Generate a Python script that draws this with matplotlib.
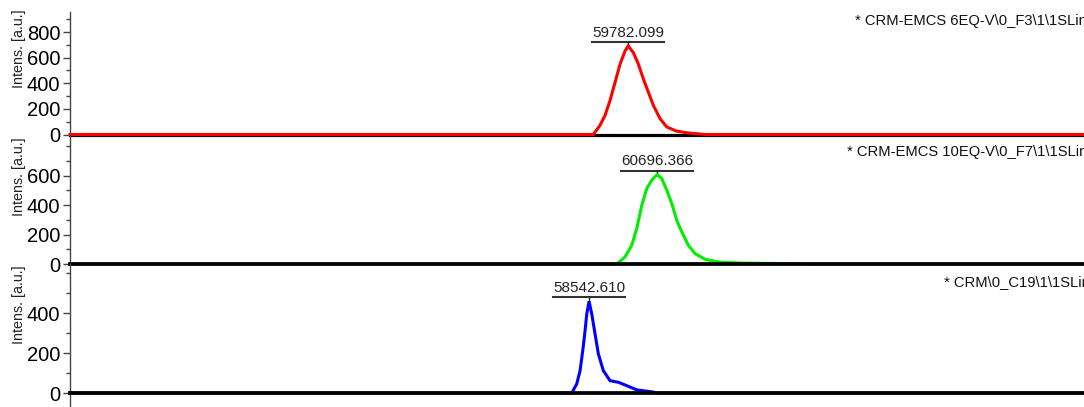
import matplotlib
matplotlib.use("Agg")
import matplotlib.pyplot as plt
from matplotlib.ticker import MultipleLocator, FixedLocator

plt.rcParams['font.family'] = ['Liberation Sans', 'DejaVu Sans']

# spectra: mass [Da] and intensity [a.u.]
mass_f3 = [42100, 58678, 58890, 59049, 59207, 59366, 59524, 59683, 59782, 59945,
           60104, 60262, 60421, 60579, 60791, 61003, 61320, 61742, 62249, 74220]
int_f3 = [0, 0, 72, 150, 266, 408, 550, 653, 692, 640,
          550, 434, 330, 227, 124, 59, 26, 10, 0, 0]

mass_f7 = [42100, 59419, 59682, 59895, 60053, 60212, 60370, 60528, 60696, 60845,
           61004, 61162, 61320, 61479, 61688, 61900, 62217, 62692, 63421, 65122,
           65543, 74220]
int_f7 = [0, 0, 48, 127, 241, 399, 513, 569, 608, 581,
          501, 411, 297, 218, 127, 71, 32, 12, 6, 2,
          0, 0]

mass_c19 = [42100, 57994, 58152, 58257, 58342, 58415, 58469, 58542, 58628, 58732,
            58837, 58995, 59207, 59470, 59736, 60053, 60579, 60687, 74220]
int_c19 = [0, 0, 46, 112, 212, 312, 396, 460, 396, 296,
           196, 112, 62, 54, 37, 16, 5, 0, 0]

names = [r"* CRM-EMCS 6EQ-V\0_F3\1\1SLin",
         r"* CRM-EMCS 10EQ-V\0_F7\1\1SLin",
         r"* CRM\0_C19\1\1SLin"]
peak_mass = [59782.099, 60696.366, 58542.610]
peak_int = [692, 608, 460]
colors = ['#ff0000', '#00ee00', '#0000ff']
masses = [mass_f3, mass_f7, mass_c19]
intens = [int_f3, int_f7, int_c19]

ylims = [(0, 957), (0, 880), (-70, 647)]
major_ticks = [[0, 200, 400, 600, 800], [0, 200, 400, 600], [0, 200, 400]]
# panel boxes in pixels: top, bottom
boxes = [(12, 134.5), (134.5, 264), (264, 407)]
name_pos = [(855, 21), (847, 152), (944, 282)]
ylabel_y = [49, 177, 305]

W, H = 1084, 407
fig = plt.figure(figsize=(W / 100, H / 100), dpi=100)
left = 70

for i in range(3):
    top, bot = boxes[i]
    ax = fig.add_axes([left / W, 1 - bot / H, (W - left) / W, (bot - top) / H])
    ax.set_xlim(min(masses[i]), max(masses[i]))
    ax.set_ylim(*ylims[i])
    ax.plot(masses[i], intens[i], color=colors[i], lw=2.2, zorder=3,
            clip_on=False, solid_joinstyle='miter')
    ax.axhline(0, color='black', lw=2.7 if i > 0 else 2.3,
               zorder=4 if i > 0 else 2, clip_on=False)

    for s in ['top', 'right', 'bottom']:
        ax.spines[s].set_visible(False)
    ax.spines['left'].set_color('#444444')
    ax.spines['left'].set_linewidth(1)
    ax.set_xticks([])
    ax.yaxis.set_major_locator(FixedLocator(major_ticks[i]))
    ax.yaxis.set_minor_locator(MultipleLocator(100))
    ax.tick_params(axis='y', which='major', length=5, width=1, color='#444444',
                   labelsize=14.5, pad=2)
    ax.tick_params(axis='y', which='minor', length=3, width=1, color='#444444')
    ax.patch.set_alpha(0)

    # peak label with underline
    fig.canvas.draw()
    px, py = ax.transData.transform((peak_mass[i], peak_int[i]))
    inv = ax.transData.inverted()
    a = inv.transform((px - 36, py + 4))
    b = inv.transform((px + 36, py + 4))
    c = inv.transform((px, py))
    ax.plot([a[0], b[0]], [a[1], b[1]], color='#333333', lw=1.5, clip_on=False)
    ax.plot([c[0], c[0]], [c[1], a[1]], color='#222222', lw=1, clip_on=False)
    ax.annotate(f"{peak_mass[i]:.3f}", xy=(peak_mass[i], peak_int[i]),
                xytext=(0, 6.5), textcoords='offset points', ha='center',
                va='baseline', fontsize=11, color='#222222', annotation_clip=False)

    fig.text(name_pos[i][0] / W, 1 - name_pos[i][1] / H, names[i], fontsize=10.6,
             ha='left', va='center', color='#111111')
    fig.text(19 / W, 1 - ylabel_y[i] / H, "Intens. [a.u.]", rotation=90,
             fontsize=10.3, ha='center', va='center', color='#222222')

fig.savefig("out.png", dpi=100)
